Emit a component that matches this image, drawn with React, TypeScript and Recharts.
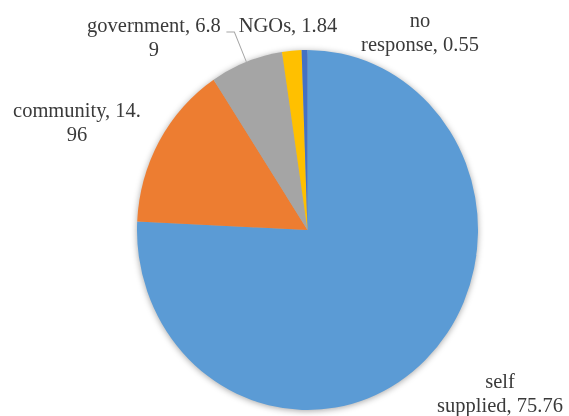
import React from "react";
import { PieChart, Pie, Cell } from "recharts";

const CATEGORIES = ["self supplied", "community", "government", "NGOs", "no response"];
const VALUES = [75.76, 14.96, 6.89, 1.84, 0.55];
const COLORS = ["#5b9bd5", "#ed7d31", "#a5a5a5", "#ffc000", "#4472c4"];

const data = CATEGORIES.map((name, i) => ({ name, value: VALUES[i] }));

// Excel-style label boxes: offset from pie centre (x = line centre, y = first baseline),
// and where the text got wrapped
const LABEL_POS: Record<string, { dx: number; dy: number; wrap: number; leader?: boolean }> = {
  "self supplied": { dx: 192.5, dy: 149.6, wrap: 5 },
  community: { dx: -230.5, dy: -107, wrap: 14 },
  government: { dx: -153.5, dy: -187.5, wrap: 15, leader: true },
  NGOs: { dx: -19.5, dy: -187.5, wrap: -1 },
  "no response": { dx: 112.5, dy: -192.2, wrap: 3 },
};

const W = 569;
const H = 394;
const CX = 307.5;
const CY = 217.8;
const R = 170.5;
const FONT = "'Liberation Serif', 'Times New Roman', serif";
const LINE_H = 22.3;
const RAD = Math.PI / 180;

const renderLabel = (p: any) => {
  const d = data[p.index];
  const pos = d && LABEL_POS[d.name];
  if (!pos) return <g />;
  const cx = typeof p.cx === "number" ? p.cx : CX;
  const cy = typeof p.cy === "number" ? p.cy : CY;
  const text = `${d.name}, ${d.value}`;
  const lines = pos.wrap > 0 ? [text.slice(0, pos.wrap).trim(), text.slice(pos.wrap).trim()] : [text];
  const x = cx + pos.dx;
  const y = cy + pos.dy;
  return (
    <text x={x} y={y} textAnchor="middle" fontFamily={FONT} fontSize={20.5} fill="#3a3a3a">
      {lines.map((l, i) => (
        <tspan key={i} x={x} dy={i === 0 ? 0 : LINE_H}>
          {l}
        </tspan>
      ))}
    </text>
  );
};

const renderLeader = (p: any) => {
  const d = data[p.index];
  const pos = d && LABEL_POS[d.name];
  if (!pos || !pos.leader) return <g />;
  const cx = typeof p.cx === "number" ? p.cx : CX;
  const cy = typeof p.cy === "number" ? p.cy : CY;
  const r = typeof p.outerRadius === "number" ? p.outerRadius : R;
  const ex = cx + r * Math.cos(-p.midAngle * RAD);
  const ey = cy + r * Math.sin(-p.midAngle * RAD);
  const ly = cy + pos.dy;
  return (
    <path
      d={`M${ex},${ey} L${ex - 12},${ly} L${ex - 20},${ly}`}
      stroke="#a6a6a6"
      strokeWidth={1}
      fill="none"
    />
  );
};

export default function App() {
  return (
    <div
      style={{
        position: "fixed",
        left: 0,
        top: 0,
        width: W,
        height: H,
        background: "#fff",
        transform: "scale(1, 1.056)",
        transformOrigin: "top left",
      }}
    >
      <style>{`
        .recharts-surface { overflow: visible; }
        g:has(> .recharts-pie-sector) { filter: drop-shadow(0px 1px 3px rgba(0,0,0,0.35)); }
      `}</style>
      <PieChart width={W} height={H} margin={{ top: 0, right: 0, bottom: 0, left: 0 }}>
        <Pie
          data={data}
          dataKey="value"
          nameKey="name"
          cx={CX}
          cy={CY}
          outerRadius={R}
          startAngle={90}
          endAngle={-270}
          stroke="none"
          label={renderLabel}
          labelLine={renderLeader}
          isAnimationActive={false}
        >
          {data.map((_, i) => (
            <Cell key={i} fill={COLORS[i % COLORS.length]} />
          ))}
        </Pie>
      </PieChart>
    </div>
  );
}
